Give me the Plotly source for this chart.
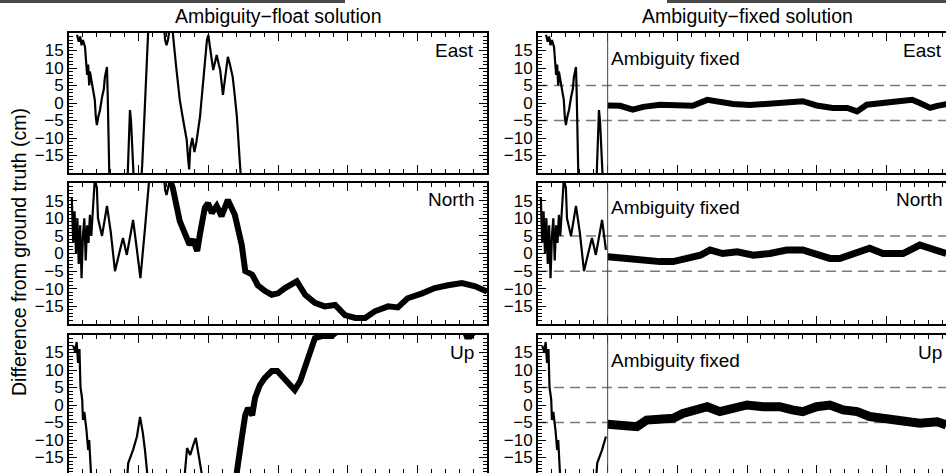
import plotly.graph_objects as go

# ---------------- data (x: time, arbitrary units 0..60 ; y: difference in cm) -------------
east_float_t = [1.15, 1.4, 1.6, 1.8, 2.0, 2.3, 2.45, 2.6, 2.75, 2.9, 3.0, 3.3, 3.5, 3.7, 3.85, 4.0,
                4.2, 4.45, 4.75, 5.0, 5.15, 5.3, 5.45, 5.55, 5.65, 5.8,
                8.4, 8.5, 8.6, 8.75, 8.9, 9.0, 9.2, 9.3,
                10.3, 10.5, 10.8, 11.0, 11.2, 11.4, 13.6, 13.8, 14.0, 14.2, 14.5, 14.9, 15.4,
                15.9, 16.4, 16.9, 17.1, 17.25, 17.4, 17.7, 18.0, 18.3, 18.8, 19.2, 19.5, 19.8,
                20.0, 20.3, 20.5, 20.7, 21.0, 21.2, 21.5, 21.7, 22.1, 22.5, 22.8, 23.1, 23.5,
                23.8, 24.1, 24.5, 24.8, 26.0]
east_float_cm = [19.5, 17.5, 19, 16.5, 18, 16, 12, 8, 11, 5, 9, 5.7, 3, 0.9, -4, -6.3,
                 -4, -2, 1.7, 4, 7.4, 9, 10.3, 3, -8, -22,
                 -22, -15, -10, -2, -5, -10, -15, -22,
                 -24, -18, -5, 5, 15, 22, 23, 18, 16.5, 18, 22, 20, 10,
                 0.9, -5, -10.6, -16, -19, -13, -10, -14, -11, -4, 5.7, 12, 18,
                 19.4, 15, 11.4, 9.4, 12, 13.7, 11, 9.4, 2.3, 9, 13.2, 11, 7.4,
                 2, -4, -16.3, -25, -35]

north_float_t = [0.4, 0.6, 0.8, 1.0, 1.2, 1.4, 1.6, 1.8, 2.0, 2.2, 2.4, 2.6, 2.8, 3.0, 3.2, 3.5, 3.7,
                 4.0, 4.16, 4.74, 5.45, 6.0, 6.6, 7.2, 7.75, 8.3, 9.2, 9.75, 10.25, 10.9, 11.35,
                 11.6, 13.6, 13.8, 14.0, 14.2, 14.5, 14.9, 15.9, 16.9, 17.3, 17.8, 18.4, 18.8,
                 19.5, 19.95, 20.5, 21.2, 21.9, 22.8, 23.8, 24.8, 25.3, 26.3, 27.1, 28.1, 29.1,
                 30.0, 31.0, 32.7, 33.9, 35.3, 36.7, 38.2, 39.6, 41.1, 42.5, 43.9, 45.8, 47.2,
                 48.6, 50.7, 52.5, 54.4, 56.4, 58.3, 59.7, 60.0]
north_float_cm = [16, 3, 12, 0, 10, -3, 8, -7, 5, 10, -2, 8, 3, 11, 5, 17, 21,
                  18.6, 10, 5, 13.5, 6, -5, 0, 4.4, -0.4, 9.5, 1, -7, 7, 19.5,
                  23, 23, 18, 16.6, 19, 21, 18.6, 9.2, 3.6, 2.5, 4, 0.7, 5.5,
                  13, 14.3, 11.5, 13.5, 10.6, 15.2, 11, 2.4, -5, -6, -9, -10.6, -11.7,
                  -11.3, -9.8, -7.9, -11.7, -14, -15, -14.6, -17.5, -18.3, -18.3, -16.4, -15, -15.3,
                  -12.7, -11.3, -9.8, -9, -8.4, -9.3, -10.6, -10.8]

up_float_t = [0.6, 0.9, 1.1, 1.3, 1.5, 1.6, 1.65, 1.8, 1.9, 2.0, 2.2, 2.5, 2.6, 2.75, 2.9, 3.0, 3.3,
              8.2, 8.5, 9.2, 9.75, 10.2, 10.6, 10.9, 11.2, 11.5,
              16.5, 16.65, 16.95, 17.4, 17.8, 18.2, 18.5, 19.1, 19.5,
              24.0, 24.1, 24.8, 25.3, 25.7, 26.3, 26.7, 27.4, 28.1, 29.1, 29.9, 30.6, 31.7,
              32.4, 33.2, 33.9, 34.6, 35.3, 36.3, 37.7, 38.5, 39.5, 56.5, 56.8, 57.1, 57.6,
              58.3, 59.0, 60.0]
up_float_cm = [17, 15, 18, 12, 16, 11, 5, 3, 1.4, -4.3, -2, -7, -9, -12.8, -10, -17.7, -25,
               -25, -16.6, -12.8, -9, -3.4, -8, -12.8, -17.7, -25,
               -25, -19, -12.3, -14.3, -11.7, -9.4, -13, -19, -25,
               -25, -19, -9.4, -2.9, -0.9, -2.9, 2, 5.7, 7.7, 9.7, 9.7, 8.3, 5.7,
               4.3, 6.9, 11.4, 15.4, 19.1, 19.7, 19.7, 21, 23, 23, 21, 19.6, 19.6,
               21, 23, 23]

east_fixed_t = [10.0, 11.8, 13.6, 15.1, 17.5, 20.0, 22.2, 24.3, 26.1, 28.0, 30.4, 32.9, 35.2,
                38.0, 40.0, 42.3, 44.4, 45.8, 47.2, 49.5, 52.0, 53.7, 54.8, 56.3, 57.3, 58.7]
east_fixed_cm = [-0.7, -0.8, -1.9, -1.1, -0.5, -0.5, -0.8, 0.9, 0.3, -0.3, -0.6, -0.3, 0,
                 0.5, -0.7, -1.4, -1.4, -2.4, -0.5, 0, 0.5, 0.9, 0, -1.4, -0.8, -0.3]

north_fixed_t = [10.0, 12.8, 15.1, 17.5, 19.4, 21.4, 23.3, 24.7, 26.5, 28.6, 30.9, 33.3, 35.7,
                 38.0, 40.0, 41.9, 43.3, 45.2, 47.6, 49.5, 52.4, 54.8, 57.3, 58.6]
north_fixed_cm = [-0.9, -1.4, -2.3, -2.3, -2.3, -1.4, -0.5, 1, 0, 0.5, -0.5, 0, 1,
                  1, -0.5, -1.4, -1.4, 0, 1.5, 0, 0, 2.4, 0.5, 0]

up_fixed_t = [10.0, 12.2, 14.2, 15.6, 17.5, 19.4, 20.8, 22.7, 24.3, 26.1, 28.6, 30.0, 32.3,
              34.7, 36.5, 38.0, 40.0, 41.9, 43.8, 45.8, 47.6, 50.1, 52.4, 54.8, 57.3, 58.6]
up_fixed_cm = [-5.5, -5.7, -6.2, -4.3, -3.8, -3.8, -2.4, -1.4, -0.5, -1.9, -0.5, 0, -0.5,
               -0.5, -1.4, -1.9, -0.5, 0, -1.4, -1.9, -3.3, -3.8, -4.3, -5.2, -4.8, -5.7]

component_names = ["East", "North", "Up"]
column_titles = ["Ambiguity\u2212float solution", "Ambiguity\u2212fixed solution"]
y_title = "Difference from ground truth (cm)"
fixed_label = "Ambiguity fixed"
fix_time = 10.0
threshold_cm = [-5, 5]
ytick_values = [-15, -10, -5, 0, 5, 10, 15]

# ---------------- layout geometry ----------------
W, H = 946, 473
FONT = "Liberation Sans, Arial, Helvetica, sans-serif"
col_domains = [[69 / W, 487 / W], [538 / W, 1.0]]
col_ranges = [[0, 60], [0, 408 / (418 / 60)]]
row_domains = [[1 - 173 / H, 1 - 33 / H], [1 - 324 / H, 1 - 183 / H], [0, 1 - 335 / H]]
row_ranges = [[-20, 20], [-20, 20], [-(473 - 405) / 3.5, 20]]

floats = [(east_float_t, east_float_cm), (north_float_t, north_float_cm), (up_float_t, up_float_cm)]
fixeds = [(east_fixed_t, east_fixed_cm), (north_fixed_t, north_fixed_cm), (up_fixed_t, up_fixed_cm)]
dense_from = [None, 14.5, 24.0]
fixed_width = [6, 7, 9]

fig = go.Figure()
layout = dict(width=W, height=H, margin=dict(l=0, r=0, t=0, b=0),
              paper_bgcolor="white", plot_bgcolor="white", showlegend=False,
              font=dict(family=FONT, color="black"))
shapes, annotations = [], []

for r in range(3):
    for c in range(2):
        i = r * 2 + c + 1
        xa, ya = f"x{i}" if i > 1 else "x", f"y{i}" if i > 1 else "y"
        xname, yname = f"xaxis{i}" if i > 1 else "xaxis", f"yaxis{i}" if i > 1 else "yaxis"
        layout[xname] = dict(domain=col_domains[c], range=col_ranges[c], anchor=ya,
                             showline=True, linecolor="black", linewidth=2, mirror="ticks",
                             ticks="inside", ticklen=8, tickwidth=1.3, tickcolor="black",
                             tickmode="linear", tick0=0, dtick=10, showticklabels=False,
                             showgrid=False, zeroline=False,
                             minor=dict(ticks="inside", ticklen=4, tickwidth=1, tickcolor="black",
                                        tickmode="linear", tick0=0, dtick=2, showgrid=False))
        layout[yname] = dict(domain=row_domains[r], range=row_ranges[r], anchor=xa,
                             showline=True, linecolor="black", linewidth=2,
                             mirror="ticks" if c == 0 else False,
                             ticks="inside", ticklen=8, tickwidth=1.3, tickcolor="black",
                             tickmode="array", tickvals=ytick_values,
                             tickfont=dict(size=17, family=FONT, color="black"),
                             showgrid=False, zeroline=False,
                             minor=dict(ticks="inside", ticklen=4, tickwidth=1, tickcolor="black",
                                        tickmode="linear", tick0=0, dtick=1, showgrid=False))

        ft, fv = floats[r]
        if c == 0:
            fig.add_trace(go.Scatter(x=ft, y=fv, mode="lines", xaxis=xa, yaxis=ya,
                                     line=dict(color="black", width=2.2)))
            if dense_from[r] is not None:
                dt = [t for t in ft if t >= dense_from[r]]
                dv = [v for t, v in zip(ft, fv) if t >= dense_from[r]]
                fig.add_trace(go.Scatter(x=dt, y=dv, mode="lines", xaxis=xa, yaxis=ya,
                                         line=dict(color="black", width=6)))
        else:
            pt = [t for t in ft if t <= fix_time]
            pv = [v for t, v in zip(ft, fv) if t <= fix_time]
            fig.add_trace(go.Scatter(x=pt, y=pv, mode="lines", xaxis=xa, yaxis=ya,
                                     line=dict(color="black", width=2.2)))
            xt, xv = fixeds[r]
            fig.add_trace(go.Scatter(x=xt, y=xv, mode="lines", xaxis=xa, yaxis=ya,
                                     line=dict(color="black", width=fixed_width[r])))
            for th in threshold_cm:
                shapes.append(dict(type="line", xref=f"{xa} domain", yref=ya, x0=0, x1=1,
                                   y0=th, y1=th, layer="below",
                                   line=dict(color="#7a7a7a", width=1.5, dash="10px,6px")))
            shapes.append(dict(type="line", xref=xa, yref=f"{ya} domain", x0=fix_time, x1=fix_time,
                               y0=0, y1=1, line=dict(color="#444", width=1)))
            annotations.append(dict(text=fixed_label, xref=xa, yref=f"{ya} domain", x=fix_time, y=1,
                                    xanchor="left", yanchor="middle", xshift=1, yshift=-25,
                                    showarrow=False, font=dict(size=19, family=FONT, color="black")))
        annotations.append(dict(text=component_names[r], xref=f"{xa} domain", yref=f"{ya} domain",
                                x=1, y=1, xanchor="right", yanchor="middle",
                                xshift=-11 if c == 0 else -2, yshift=-17, showarrow=False,
                                font=dict(size=19, family=FONT, color="black")))

annotations.append(dict(text=column_titles[0], xref="paper", yref="paper", x=278 / W, y=1 - 16 / H,
                        xanchor="center", yanchor="middle", showarrow=False,
                        font=dict(size=19.5, family=FONT, color="black")))
annotations.append(dict(text=column_titles[1], xref="paper", yref="paper", x=747 / W, y=1 - 16 / H,
                        xanchor="center", yanchor="middle", showarrow=False,
                        font=dict(size=19.5, family=FONT, color="black")))
annotations.append(dict(text=y_title, xref="paper", yref="paper", x=19 / W, y=1 - 252 / H,
                        xanchor="center", yanchor="middle", textangle=-90, showarrow=False,
                        font=dict(size=19.5, family=FONT, color="black")))

# scanned-page edge remnants along the top
shapes.append(dict(type="rect", xref="paper", yref="paper", x0=0, x1=345 / W, y0=1 - 3 / H,
                   y1=1, line=dict(width=0), fillcolor="#4a4a4a", layer="above"))
shapes.append(dict(type="rect", xref="paper", yref="paper", x0=667 / W, x1=1, y0=1 - 3 / H,
                   y1=1, line=dict(width=0), fillcolor="#4a4a4a", layer="above"))

layout["shapes"] = shapes
layout["annotations"] = annotations
fig.update_layout(**layout)
fig.write_html("out.html", config={"displayModeBar": False},
               post_script="document.body.style.margin='0';document.body.style.padding='0';"
                           "document.body.style.overflow='hidden';")
